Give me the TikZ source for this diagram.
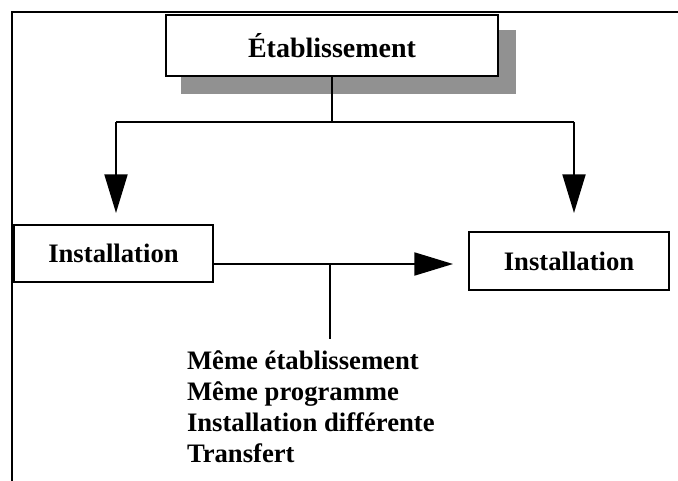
\documentclass[tikz,border=0pt]{standalone}
\usepackage{fontspec}
\setmainfont{Liberation Serif}
\usetikzlibrary{arrows.meta}
\definecolor{shadowgray}{RGB}{145,145,145}
\begin{document}
\begin{tikzpicture}[x=0.75pt,y=-0.75pt, line width=1.5pt,
  txt/.style={font=\bfseries\fontsize{20}{24}\selectfont},
  box/.style={draw, fill=white, txt, inner sep=0pt},
  arr/.style={-{Triangle[length=29pt,width=17.25pt]}},
  lbl/.style={txt, anchor=base west, inner sep=0pt}]
\useasboundingbox (0,0) rectangle (678,481);
% frame lines
\draw (679,12.5) -- (12,12.5) -- (12,482);
% shadow of top box
\fill[shadowgray] (181,30) rectangle (516,94);
% boxes
\node[box, minimum width=249pt, minimum height=45.75pt] (top) at (332,45.5) {\fontsize{21}{24}\selectfont Établissement\hspace{7pt}};
\node[box, minimum width=149.25pt, minimum height=42.75pt] (left) at (113.5,253.5) {Installation\hspace{9pt}};
\node[box, minimum width=150pt, minimum height=43.5pt] (right) at (569,261) {Installation};
% coordinates
\coordinate (j) at (331,122);
\coordinate (jl) at (116,122);
\coordinate (jr) at (574,122);
\coordinate (tl) at (116,213);
\coordinate (tr) at (574,213);
\coordinate (hl) at (453,264);
\coordinate (m) at (330,264);
\coordinate (mb) at (330,339);
% connectors
\draw (top.south) -- (top.south |- j);
\draw (jl) -- (jr);
\draw[arr] (jl) -- (tl);
\draw[arr] (jr) -- (tr);
\draw[arr] (left.east |- hl) -- (hl);
\draw (m) -- (mb);
% labels
\node[lbl] (l1) at (186,369) {Même établissement};
\node[lbl] (l2) at (186,400) {Même programme};
\node[lbl] (l3) at (186,431) {Installation différente};
\node[lbl] (l4) at (186,462) {Transfert};
\end{tikzpicture}
\end{document}
